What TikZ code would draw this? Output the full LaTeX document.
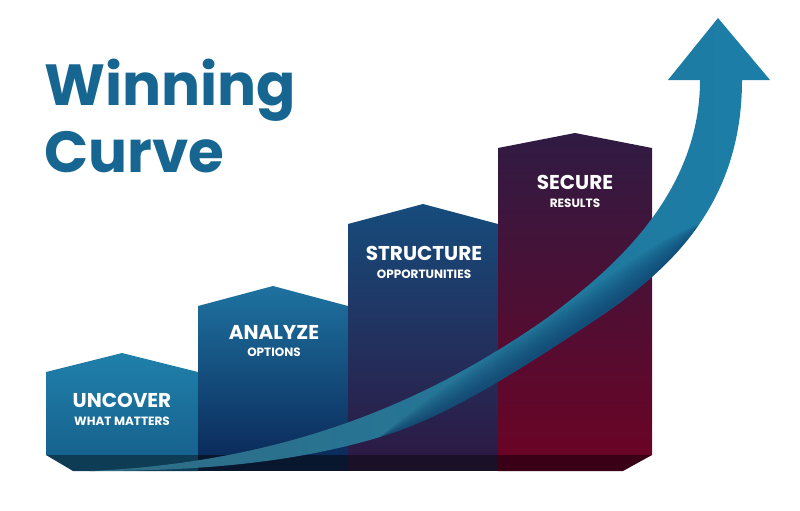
\documentclass[tikz,border=0pt]{standalone}
\usepackage{fontspec}
\setmainfont{Poppins}
\usetikzlibrary{positioning}
\definecolor{titleblue}{HTML}{176692}
\definecolor{arrowblue}{HTML}{1B7EA8}
\definecolor{navy}{HTML}{0B2C5C}
\definecolor{plum}{HTML}{2F1B43}
\definecolor{wine}{HTML}{6A0426}
\tikzstyle{stagetitle}=[text=white,inner sep=0pt,font=\bfseries\fontsize{20}{20}\selectfont]
\tikzstyle{stagesub}=[text=white,inner sep=0pt,font=\bfseries\fontsize{12}{12}\selectfont]
\tikzstyle{base}=[draw=none]
\tikzstyle{edgeshade}=[fill=navy, opacity=.08]
% edges of the rising curve
\def\upperedge{(90,471) .. controls (290,462) and (430,400) .. (547,318)
  .. controls (603,276) and (700,200) .. (700,80)}
\def\loweredge{(742,80) .. controls (742,220) and (650,284) .. (580,330)
  .. controls (521,368.5) and (447,417) .. (380,437)
  .. controls (284,466) and (180,471) .. (90,471)}
\def\lowmid{(705,222) .. controls (680,258) and (640,290) .. (580,330)
  .. controls (521,368.5) and (447,417) .. (380,437)}

\begin{document}
\begin{tikzpicture}[x=1pt, y=-1pt]
  \useasboundingbox (0,0) rectangle (800,511);

  % title
  \node[anchor=base west, text=titleblue, inner sep=0pt,
        font=\bfseries\fontsize{58}{58}\selectfont] (winning) at (44,105) {Winning};
  \node[anchor=base west, text=titleblue, inner sep=0pt,
        font=\bfseries\fontsize{58}{58}\selectfont] (curve) at (44,172) {Curve};

  % the four columns
  \shade[top color={rgb,255:red,31;green,128;blue,170}, bottom color={rgb,255:red,23;green,98;blue,142}]
    (46,455) -- (46,372) -- (122,353) -- (198,372) -- (198,455) -- cycle;
  \shade[top color={rgb,255:red,30;green,114;blue,160}, bottom color=navy]
    (198,455) -- (198,306) -- (273,286) -- (348,306) -- (348,455) -- cycle;
  \shade[top color={rgb,255:red,22;green,76;blue,124}, middle color=navy, bottom color={rgb,255:red,44;green,26;blue,69}]
    (348,455) -- (348,224) -- (423,204) -- (498,224) -- (498,455) -- cycle;
  \shade[top color=plum, middle color={rgb,255:red,58;green,26;blue,68}, bottom color=wine]
    (498,455) -- (498,148) -- (575,133) -- (652,148) -- (652,455) -- cycle;

  % base strip
  \fill[base, fill={rgb,255:red,15;green,60;blue,85}] (46,455) -- (198,455) -- (198,471) -- (73,471) -- cycle;
  \fill[base, fill={rgb,255:red,8;green,22;blue,46}] (198,455) -- (348,455) -- (348,471) -- (198,471) -- cycle;
  \fill[base, fill={rgb,255:red,26;green,16;blue,40}] (348,455) -- (498,455) -- (498,471) -- (348,471) -- cycle;
  \fill[base, fill={rgb,255:red,58;green,0;blue,22}] (498,455) -- (652,455) -- (623,471) -- (498,471) -- cycle;

  % the curve and its head
  \shade[left color={rgb,255:red,48;green,108;blue,132}, right color=arrowblue]
    \upperedge -- (668,80) -- (718,18) -- (770,80) -- \loweredge -- cycle;
  % darker band along the lower edge
  \begin{scope}
    \clip \upperedge -- \loweredge -- cycle;
    \foreach \d in {4,7,...,28}
      \fill[edgeshade] \lowmid
        .. controls ({447-0.6*\d},{417-0.8*\d}) and ({521-0.6*\d},{368.5-0.8*\d}) .. ({580-0.6*\d},{330-0.8*\d})
        .. controls ({640-0.6*\d},{290-0.8*\d}) and ({680-0.6*\d},{258-0.8*\d}) .. (705,222) -- cycle;
  \end{scope}

  % labels
  \node[stagetitle] (uncover) at (122,400) {UNCOVER};
  \node[stagesub, below=9pt of uncover] (whatmatters) {WHAT MATTERS};
  \node[stagetitle] (analyze) at (274,332) {ANALYZE};
  \node[stagesub, below=9pt of analyze] (options) {OPTIONS};
  \node[stagetitle] (structure) at (424,253) {STRUCTURE};
  \node[stagesub, below=9pt of structure] (opportunities) {OPPORTUNITIES};
  \node[stagetitle] (secure) at (575,182) {SECURE};
  \node[stagesub, below=9pt of secure] (results) {RESULTS};

\end{tikzpicture}
\end{document}
